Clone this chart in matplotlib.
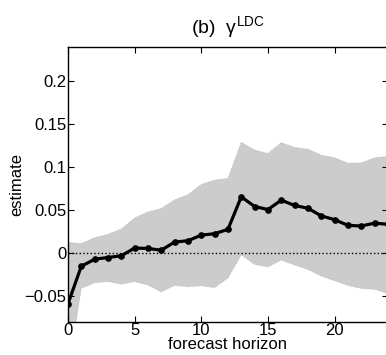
import matplotlib
matplotlib.use("Agg")
import matplotlib.pyplot as plt
import numpy as np

plt.rcParams['font.family'] = ['Liberation Sans', 'DejaVu Sans']
plt.rcParams['mathtext.fontset'] = 'custom'
plt.rcParams['mathtext.rm'] = 'Liberation Sans'
plt.rcParams['mathtext.it'] = 'Liberation Sans'

horizon = list(range(25))
estimate = [-0.059, -0.0152, -0.007, -0.005, -0.003, 0.006, 0.0055, 0.0035, 0.013, 0.0145,
            0.021, 0.0227, 0.0277, 0.0656, 0.0543, 0.0508, 0.0617, 0.0555, 0.0523, 0.0434,
            0.039, 0.0324, 0.0316, 0.035, 0.0336]
upper = [0.0125, 0.0113, 0.018, 0.022, 0.028, 0.041, 0.048, 0.052, 0.062, 0.068,
         0.080, 0.085, 0.087, 0.129, 0.120, 0.116, 0.1286, 0.123, 0.121, 0.114,
         0.111, 0.1047, 0.105, 0.111, 0.1125]
lower = [-0.14, -0.041, -0.0344, -0.033, -0.036, -0.033, -0.037, -0.045, -0.0375, -0.039,
         -0.038, -0.040, -0.029, -0.002, -0.013, -0.016, -0.008, -0.0137, -0.019, -0.0266,
         -0.032, -0.0375, -0.041, -0.042, -0.047]
xticks = [0, 5, 10, 15, 20]
yticks = [-0.05, 0, 0.05, 0.1, 0.15, 0.2]
yticklabels = ['\u22120.05', '0', '0.05', '0.1', '0.15', '0.2']

fig = plt.figure(figsize=(3.86, 3.55), dpi=100)
ax = fig.add_axes([0.176, 0.093, 1.005 - 0.176, 0.868 - 0.093])

ax.fill_between(horizon, lower, upper, facecolor='#cccccc', edgecolor='#b0b0b0',
                linewidth=0.6, linestyle=':')
ax.axhline(0, color='black', linestyle=':', linewidth=1)
ax.plot(horizon, estimate, color='black', linewidth=2.3, marker='o', markersize=3.8)

ax.set_xlim(0, 24)
ax.set_ylim(-0.08, 0.24)
ax.set_xticks(xticks)
ax.set_xticklabels([str(t) for t in xticks])
ax.set_yticks(yticks)
ax.set_yticklabels(yticklabels)
ax.tick_params(direction='in', top=True, right=True, labelsize=12, length=4, pad=1)
for s in ax.spines.values():
    s.set_linewidth(1)

ax.set_xlabel('forecast horizon', fontsize=12, labelpad=-1)
ax.set_ylabel('estimate', fontsize=12, labelpad=0)
ax.set_title(r'(b)  $\gamma^{\mathrm{LDC}}$', fontsize=14, pad=10)

fig.savefig('out.png', dpi=100)
